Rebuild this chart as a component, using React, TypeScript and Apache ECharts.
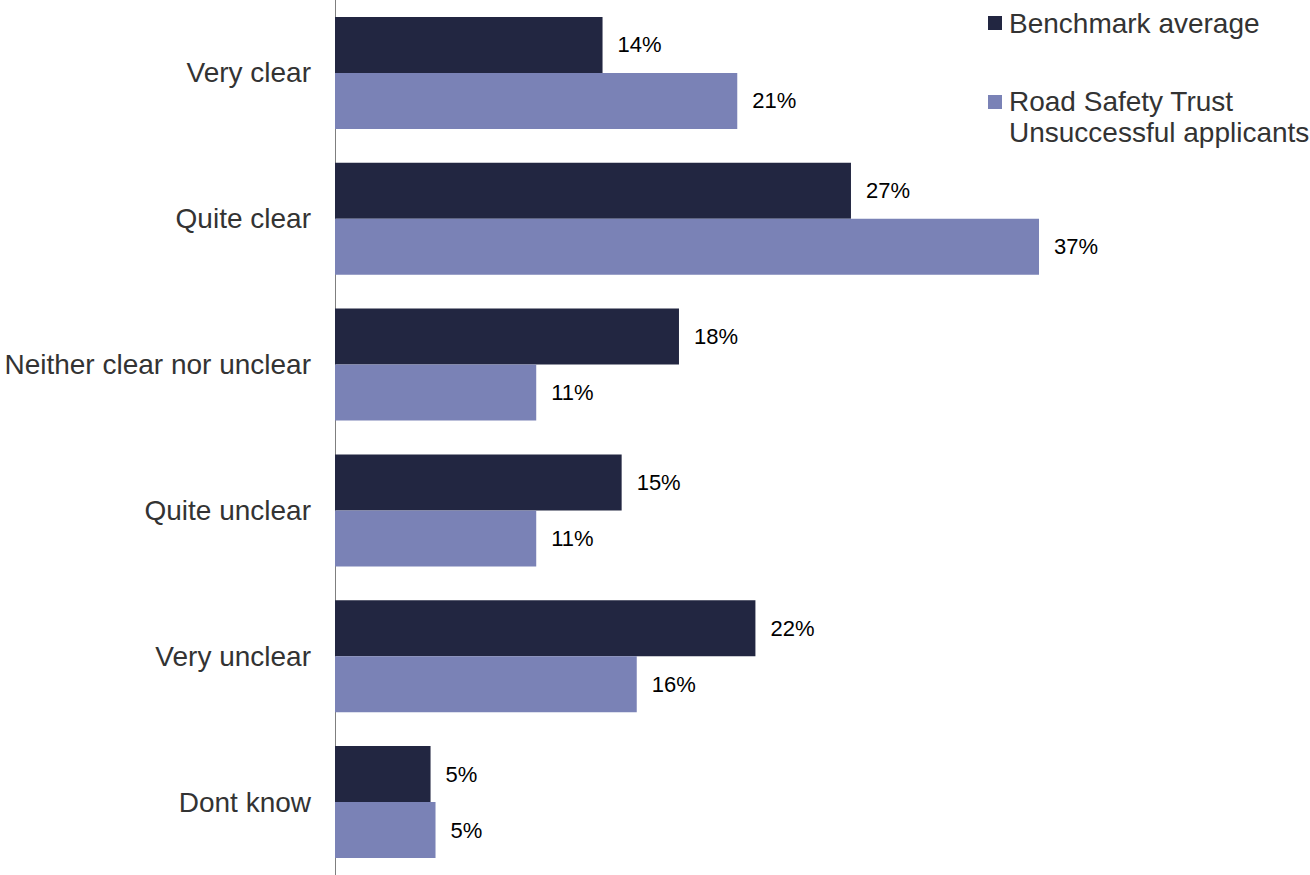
import React, { useEffect, useRef } from "react";
import * as echarts from "echarts";

const categories = [
  "Very clear",
  "Quite clear",
  "Neither clear nor unclear",
  "Quite unclear",
  "Very unclear",
  "Dont know",
];
const benchmarkName = "Benchmark average";
const rstName = "Road Safety Trust Unsuccessful applicants";
const benchmarkValues = [14.0, 27.0, 18.0, 15.0, 22.0, 5.0];
const rstValues = [21.05, 36.84, 10.53, 10.53, 15.79, 5.26];

const DARK = "#222641";
const LIGHT = "#7a82b6";
const FONT = "Liberation Sans, Arial, sans-serif";

export default function App() {
  const ref = useRef<HTMLDivElement>(null);
  useEffect(() => {
    if (!ref.current) return;
    const chart = echarts.init(ref.current, undefined, { renderer: "svg" });
    const labelCfg = {
      show: true,
      position: "right",
      distance: 15,
      fontSize: 22,
      fontFamily: FONT,
      color: "#000",
      formatter: (p: any) => Math.round(p.value) + "%",
    };
    const legendText = (text: string, y: number) => ({
      type: "text",
      x: 1009,
      y,
      style: {
        text,
        fontSize: 28,
        fill: "#333",
        verticalAlign: "middle",
        fontFamily: FONT,
      },
    });
    chart.setOption({
      animation: false,
      backgroundColor: "#fff",
      textStyle: { fontFamily: FONT },
      grid: { left: 335, top: -1, width: 764.4, height: 876, containLabel: false },
      xAxis: {
        type: "value",
        min: 0,
        max: 40,
        show: false,
      },
      yAxis: {
        type: "category",
        inverse: true,
        data: categories,
        axisLine: { show: true, lineStyle: { color: "#7f7f7f", width: 1 } },
        axisTick: { show: false },
        axisLabel: {
          fontSize: 28,
          color: "#333",
          margin: 24,
          fontFamily: FONT,
        },
        splitLine: { show: false },
      },
      series: [
        {
          name: benchmarkName,
          type: "bar",
          data: benchmarkValues,
          barWidth: 56,
          barGap: "0%",
          itemStyle: { color: DARK },
          label: labelCfg,
        },
        {
          name: rstName,
          type: "bar",
          data: rstValues,
          barWidth: 56,
          barGap: "0%",
          itemStyle: { color: LIGHT },
          label: labelCfg,
        },
      ],
      graphic: [
        { type: "rect", shape: { x: 988, y: 16, width: 14, height: 14 }, style: { fill: DARK } },
        legendText(benchmarkName, 23),
        { type: "rect", shape: { x: 988, y: 95, width: 14, height: 14 }, style: { fill: LIGHT } },
        legendText("Road Safety Trust", 101),
        legendText("Unsuccessful applicants", 132),
      ],
    });
    return () => chart.dispose();
  }, []);
  return (
    <div
      ref={ref}
      style={{ position: "fixed", left: 0, top: 0, width: 1310, height: 875 }}
    />
  );
}
